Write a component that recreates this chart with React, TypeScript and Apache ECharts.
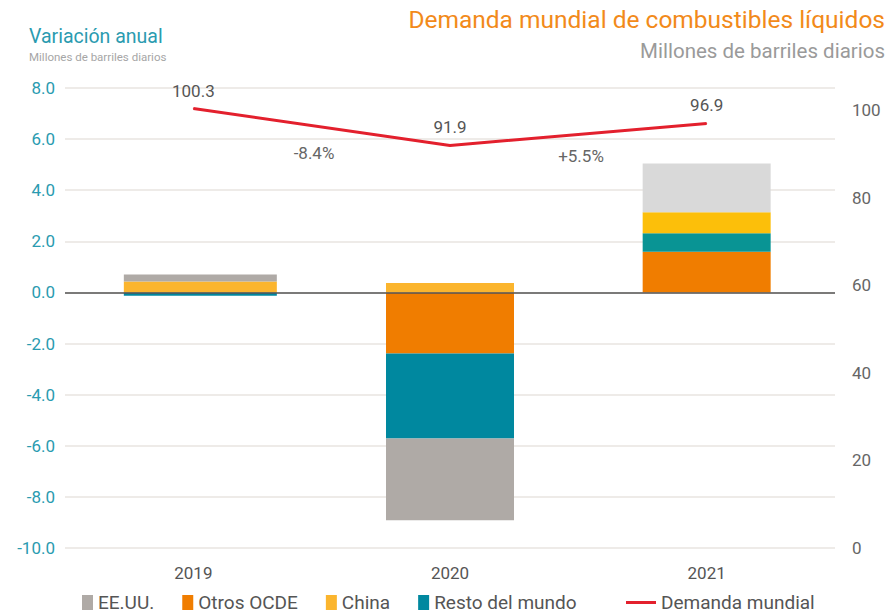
import React, { useEffect, useRef } from "react";
import * as echarts from "echarts";

const categories = ["2019", "2020", "2021"];
const eeuu = [0.27, -3.19, 1.91];
const otrosOcde = [0.0, -2.39, 1.59];
const china = [0.43, 0.37, 0.82];
const resto = [-0.13, -3.33, 0.73];
const demanda = [100.3, 91.9, 96.9];
const variaciones = ["-8.4%", "+5.5%"];

const leftTicks = { min: -10, max: 8, interval: 2 };
const rightTicks = { min: 0, max: 105, interval: 20 };

const FONT = "Roboto, 'Noto Sans', sans-serif";

const baseColors: Record<string, string> = {
  "EE.UU.": "#afaaa6",
  "Otros OCDE": "#f07d00",
  China: "#fbb52e",
  "Resto del mundo": "#00889f",
};
const colors2021: Record<string, string> = {
  "EE.UU.": "#d9d9d9",
  "Otros OCDE": "#f07d00",
  China: "#fcbf0a",
  "Resto del mundo": "#099494",
};

// stacking order from zero outward
const stackSeries: [string, number[]][] = [
  ["Otros OCDE", otrosOcde],
  ["Resto del mundo", resto],
  ["China", china],
  ["EE.UU.", eeuu],
];

export default function App() {
  const ref = useRef<HTMLDivElement>(null);
  useEffect(() => {
    if (!ref.current) return;
    const chart = echarts.init(ref.current, null, { renderer: "svg" });

    const mainBars = stackSeries.map(([name, vals], si) => ({
      name,
      type: "bar",
      stack: "main",
      xAxisIndex: 0,
      yAxisIndex: 0,
      barWidth: 128,
      itemStyle: { color: baseColors[name] },
      data: vals.map((v, i) =>
        i === 0 ? null : i === 2 ? { value: v, itemStyle: { color: colors2021[name] } } : v
      ),
      markLine:
        si === 0
          ? {
              silent: true,
              symbol: "none",
              label: { show: false },
              lineStyle: { color: "#555555", width: 1.5, type: "solid" },
              data: [{ yAxis: 0 }],
            }
          : undefined,
      z: 2,
    }));

    const bars2019 = stackSeries.map(([name, vals]) => ({
      name,
      type: "bar",
      stack: "y2019",
      xAxisIndex: 1,
      yAxisIndex: 2,
      barWidth: 153,
      itemStyle: { color: baseColors[name] },
      data: vals.map((v, i) => (i === 0 ? v : null)),
      z: 1,
    }));

    const textStyleBase = { fontFamily: FONT };

    const option: any = {
      animation: false,
      backgroundColor: "#ffffff",
      textStyle: { fontFamily: FONT },
      grid: [
        { left: 65, right: 56, top: 88, bottom: 68 },
        { left: 72, right: 49, top: 88, bottom: 68 },
      ],
      xAxis: [
        {
          type: "category",
          gridIndex: 0,
          data: categories,
          axisLine: { show: false, onZero: false },
          axisTick: { show: false },
          axisLabel: { color: "#555555", fontSize: 17, margin: 16, fontFamily: FONT },
        },
        {
          type: "category",
          gridIndex: 1,
          data: categories,
          show: false,
        },
      ],
      yAxis: [
        {
          type: "value",
          gridIndex: 0,
          position: "left",
          min: leftTicks.min,
          max: leftTicks.max,
          interval: leftTicks.interval,
          axisLine: { show: false },
          axisTick: { show: false },
          axisLabel: {
            color: "#2a9bb0",
            fontSize: 17,
            margin: 10,
            fontFamily: FONT,
            formatter: (v: number) => v.toFixed(1),
          },
          splitLine: { lineStyle: { color: "#e9e5e1", width: 1.5 } },
        },
        {
          type: "value",
          gridIndex: 0,
          position: "right",
          min: rightTicks.min,
          max: rightTicks.max,
          interval: rightTicks.interval,
          axisLine: { show: false },
          axisTick: { show: false },
          splitLine: { show: false },
          axisLabel: {
            color: "#666666",
            fontSize: 17,
            margin: 17,
            fontFamily: FONT,
            showMaxLabel: false,
            formatter: (v: number) => (v % 20 === 0 ? String(v) : ""),
          },
        },
        {
          type: "value",
          gridIndex: 1,
          min: leftTicks.min,
          max: leftTicks.max,
          interval: leftTicks.interval,
          show: false,
          splitLine: { show: false },
        },
      ],
      legend: [
        {
          left: 77,
          top: 588,
          itemWidth: 11,
          itemHeight: 15,
          itemGap: 28,
          icon: "rect",
          textStyle: { color: "#555555", fontSize: 19, fontFamily: FONT },
          data: ["EE.UU.", "Otros OCDE", "China", "Resto del mundo"],
        },
        {
          left: 621,
          top: 588,
          itemWidth: 30,
          itemHeight: 3,
          textStyle: { color: "#555555", fontSize: 19, fontFamily: FONT },
          data: [{ name: "Demanda mundial", icon: "rect" }],
        },
      ],
      graphic: [
        {
          type: "text",
          left: 29,
          top: 26,
          style: { text: "Variación anual", fill: "#2a9bb0", fontSize: 19.5, ...textStyleBase },
        },
        {
          type: "text",
          left: 29,
          top: 51,
          style: { text: "Millones de barriles diarios", fill: "#a6a6a6", fontSize: 11.5, ...textStyleBase },
        },
        {
          type: "text",
          right: 6,
          top: 7,
          style: {
            text: "Demanda mundial de combustibles líquidos",
            fill: "#f28a1a",
            fontSize: 24.5,
            ...textStyleBase,
          },
        },
        {
          type: "text",
          right: 6,
          top: 40,
          style: { text: "Millones de barriles diarios", fill: "#9a9a9a", fontSize: 20.5, ...textStyleBase },
        },
        {
          type: "text",
          x: 314,
          y: 153,
          style: {
            text: variaciones[0],
            fill: "#666666",
            fontSize: 17,
            align: "center",
            verticalAlign: "middle",
            ...textStyleBase,
          },
        },
        {
          type: "text",
          x: 581,
          y: 156,
          style: {
            text: variaciones[1],
            fill: "#666666",
            fontSize: 17,
            align: "center",
            verticalAlign: "middle",
            ...textStyleBase,
          },
        },
      ],
      series: [
        ...bars2019,
        ...mainBars,
        {
          name: "Demanda mundial",
          type: "line",
          xAxisIndex: 0,
          yAxisIndex: 1,
          data: demanda,
          showSymbol: true,
          symbol: "circle",
          symbolSize: 1,
          lineStyle: { color: "#e3202d", width: 3 },
          itemStyle: { color: "#e3202d" },
          label: {
            show: true,
            position: "top",
            distance: 9,
            color: "#555555",
            fontSize: 17,
            fontFamily: FONT,
            formatter: (p: any) => Number(p.value).toFixed(1),
          },
          z: 5,
        },
      ],
    };
    chart.setOption(option);
    return () => chart.dispose();
  }, []);
  return <div ref={ref} style={{ width: 891, height: 616, position: "absolute", left: 0, top: 0 }} />;
}
